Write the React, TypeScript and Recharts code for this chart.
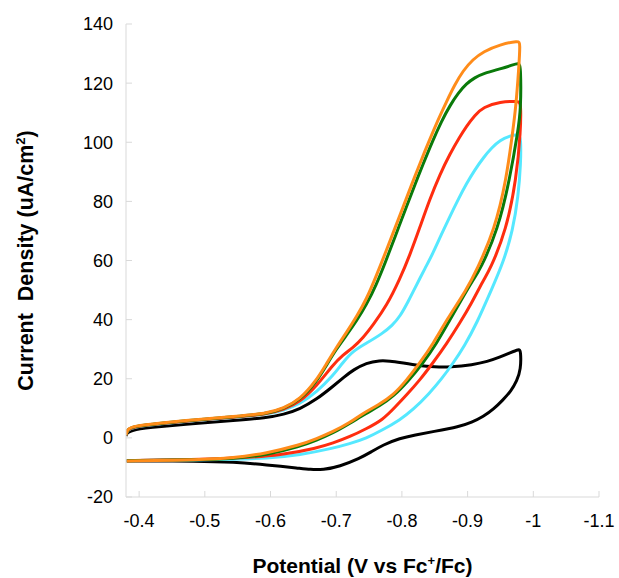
import { LineChart, Line, XAxis, YAxis, Label } from "recharts";

type Pt = [number, number];

// potential (V vs Fc+/Fc), current density (uA/cm2)
const potentialTicks = [-0.4, -0.5, -0.6, -0.7, -0.8, -0.9, -1, -1.1];
const currentTicks = [-20, 0, 20, 40, 60, 80, 100, 120, 140];

const blackOut: Pt[] = [
  [-0.38, 0.6], [-0.381, 1.6], [-0.391, 2.9], [-0.43, 3.8], [-0.492, 5.0], [-0.543, 5.9],
  [-0.594, 6.8], [-0.62, 7.9], [-0.645, 9.8], [-0.67, 13.0], [-0.695, 17.4], [-0.712, 20.6],
  [-0.726, 23.0], [-0.746, 25.4], [-0.766, 26.2], [-0.782, 26.0], [-0.797, 25.5], [-0.827, 24.4],
  [-0.85, 24.0], [-0.873, 23.9], [-0.908, 24.7], [-0.93, 25.8], [-0.949, 27.3], [-0.965, 28.8],
  [-0.978, 30.0],
];
const blackBack: Pt[] = [
  [-0.981, 29.6], [-0.981, 23.0], [-0.975, 19.4], [-0.966, 15.8], [-0.954, 12.9], [-0.94, 9.8],
  [-0.924, 7.2], [-0.906, 5.2], [-0.888, 3.8], [-0.847, 2.1], [-0.82, 1.0], [-0.797, -0.1],
  [-0.771, -2.4], [-0.753, -4.8], [-0.736, -6.9], [-0.705, -9.7], [-0.68, -10.8], [-0.66, -10.7],
  [-0.645, -10.3], [-0.594, -9.1], [-0.543, -8.2], [-0.492, -7.8], [-0.381, -7.8],
];

const cyanOut: Pt[] = [
  [-0.38, 0.9], [-0.382, 2.6], [-0.391, 3.7], [-0.43, 4.7], [-0.492, 6.0], [-0.543, 6.9],
  [-0.594, 7.9], [-0.62, 9.3], [-0.645, 11.5], [-0.67, 15.5], [-0.695, 21.0], [-0.71, 25.5],
  [-0.726, 29.5], [-0.746, 32.0], [-0.771, 35.4], [-0.785, 38.0], [-0.797, 41.0], [-0.81, 46.3],
  [-0.822, 51.6], [-0.835, 57.3], [-0.847, 62.3], [-0.86, 68.8], [-0.873, 74.9], [-0.886, 80.8],
  [-0.898, 85.9], [-0.911, 90.7], [-0.924, 94.8], [-0.937, 98.2], [-0.949, 100.6], [-0.965, 102.3],
  [-0.978, 102.6],
];
const cyanBack: Pt[] = [
  [-0.981, 101.5], [-0.981, 93.0], [-0.977, 81.6], [-0.969, 70.4], [-0.954, 59.1], [-0.936, 50.0],
  [-0.914, 38.8], [-0.895, 31.0], [-0.878, 25.3], [-0.86, 19.8], [-0.842, 15.1], [-0.817, 9.5],
  [-0.797, 6.1], [-0.77, 2.6], [-0.746, -0.1], [-0.72, -2.0], [-0.695, -3.5], [-0.645, -5.8],
  [-0.594, -6.9], [-0.543, -7.3], [-0.492, -7.5], [-0.381, -7.7],
];

const redOut: Pt[] = [
  [-0.38, 0.9], [-0.382, 2.7], [-0.391, 3.8], [-0.43, 4.8], [-0.492, 6.1], [-0.543, 7.0],
  [-0.594, 8.0], [-0.62, 9.6], [-0.645, 12.2], [-0.67, 17.5], [-0.695, 24.7], [-0.71, 28.0],
  [-0.726, 30.6], [-0.741, 33.9], [-0.756, 38.2], [-0.777, 44.8], [-0.797, 53.8], [-0.812, 61.8],
  [-0.827, 71.0], [-0.842, 80.5], [-0.858, 89.2], [-0.873, 96.0], [-0.888, 101.8], [-0.898, 105.3],
  [-0.911, 109.2], [-0.924, 111.9], [-0.949, 113.7], [-0.978, 113.9],
];
const redBack: Pt[] = [
  [-0.981, 113.2], [-0.981, 104.2], [-0.974, 87.3], [-0.959, 70.4], [-0.934, 56.8], [-0.924, 53.4],
  [-0.906, 45.5], [-0.888, 38.8], [-0.868, 31.8], [-0.847, 25.3], [-0.827, 19.5], [-0.807, 14.5],
  [-0.79, 10.5], [-0.771, 6.1], [-0.745, 3.0], [-0.721, 0.4], [-0.695, -1.8], [-0.67, -3.5],
  [-0.619, -5.8], [-0.543, -7.1], [-0.381, -7.7],
];

const greenOut: Pt[] = [
  [-0.38, 1.0], [-0.382, 2.8], [-0.391, 3.9], [-0.43, 4.9], [-0.492, 6.2], [-0.543, 7.1],
  [-0.594, 8.1], [-0.62, 9.9], [-0.645, 12.8], [-0.67, 19.0], [-0.685, 24.5], [-0.7, 30.0],
  [-0.716, 34.8], [-0.731, 39.6], [-0.746, 45.0], [-0.761, 51.8], [-0.775, 59.5], [-0.79, 68.3],
  [-0.807, 78.2], [-0.82, 85.8], [-0.832, 92.5], [-0.847, 100.6], [-0.86, 107.0], [-0.873, 112.4],
  [-0.886, 116.7], [-0.898, 119.8], [-0.911, 121.9], [-0.924, 123.3], [-0.949, 124.8], [-0.966, 125.9],
  [-0.978, 127.0],
];
const greenBack: Pt[] = [
  [-0.981, 125.5], [-0.981, 111.0], [-0.977, 104.2], [-0.964, 87.3], [-0.946, 70.4], [-0.919, 56.8],
  [-0.908, 53.4], [-0.89, 46.5], [-0.873, 39.9], [-0.853, 32.0], [-0.832, 25.3], [-0.81, 19.3],
  [-0.787, 14.0], [-0.766, 10.8], [-0.746, 8.4], [-0.72, 4.8], [-0.695, 1.6], [-0.67, -0.8],
  [-0.645, -2.9], [-0.594, -5.8], [-0.543, -7.0], [-0.492, -7.4], [-0.381, -7.7],
];

const orangeOut: Pt[] = [
  [-0.38, 1.0], [-0.382, 2.9], [-0.391, 4.0], [-0.43, 5.0], [-0.492, 6.3], [-0.543, 7.2],
  [-0.594, 8.2], [-0.62, 10.0], [-0.645, 13.0], [-0.67, 19.5], [-0.685, 25.0], [-0.7, 30.5],
  [-0.716, 35.8], [-0.731, 41.0], [-0.746, 46.9], [-0.761, 54.8], [-0.777, 63.8], [-0.79, 71.3],
  [-0.802, 78.2], [-0.815, 85.8], [-0.827, 92.6], [-0.842, 100.8], [-0.855, 107.6], [-0.868, 113.8],
  [-0.88, 119.3], [-0.893, 124.2], [-0.908, 128.0], [-0.924, 130.7], [-0.949, 133.0], [-0.978, 134.4],
];
const orangeBack: Pt[] = [
  [-0.98, 133.5], [-0.978, 125.0], [-0.973, 111.0], [-0.969, 104.2], [-0.959, 87.3], [-0.941, 70.4],
  [-0.914, 56.8], [-0.898, 50.0], [-0.868, 39.9], [-0.848, 32.0], [-0.827, 25.3], [-0.807, 19.5],
  [-0.787, 14.5], [-0.763, 11.0], [-0.741, 8.4], [-0.72, 5.0], [-0.695, 2.1], [-0.67, -0.3],
  [-0.645, -2.4], [-0.594, -5.2], [-0.543, -6.8], [-0.492, -7.4], [-0.381, -7.8],
];

// one closed sweep: cathodic scan out to the vertex, then back
const sweep = (out: Pt[], back: Pt[]) =>
  [...out, ...back].map(([v, j]) => ({ v, j }));

const curves = [
  { name: "black", color: "#000000", data: sweep(blackOut, blackBack) },
  { name: "cyan", color: "#55e8ff", data: sweep(cyanOut, cyanBack) },
  { name: "red", color: "#ff2d0f", data: sweep(redOut, redBack) },
  { name: "green", color: "#0a7a0a", data: sweep(greenOut, greenBack) },
  { name: "orange", color: "#ff8c1a", data: sweep(orangeOut, orangeBack) },
];

const FONT = "'Liberation Sans', Arial, sans-serif";
const AXIS = "#d9d9d9";

function XTitle({ viewBox }: any) {
  const cx = viewBox.x + viewBox.width / 2;
  return (
    <text x={cx} y={viewBox.y + 76} textAnchor="middle" fontFamily={FONT} fontSize={21} fontWeight="bold" fill="#000">
      Potential (V vs Fc<tspan dy={-8} fontSize={13}>+</tspan>
      <tspan dy={8}>/Fc)</tspan>
    </text>
  );
}

function YTitle({ viewBox }: any) {
  const cy = viewBox.y + viewBox.height / 2;
  return (
    <text
      transform={`translate(33, ${cy}) rotate(-90)`}
      textAnchor="middle"
      fontFamily={FONT}
      fontSize={21.5}
      fontWeight="bold"
      fill="#000"
      style={{ whiteSpace: "pre" }}
    >
      Current  Density (uA/cm<tspan dy={-8} fontSize={13}>2</tspan>
      <tspan dy={8}>)</tspan>
    </text>
  );
}

export default function App() {
  return (
    <div style={{ position: "absolute", left: 0, top: 0, width: 619, height: 578, background: "#fff" }}>
      <LineChart width={619} height={578} margin={{ top: 24, right: 20, bottom: 41, left: 66 }}>
        <XAxis
          dataKey="v"
          type="number"
          domain={[-1.1, -0.38]}
          reversed
          allowDataOverflow
          ticks={potentialTicks}
          height={40}
          stroke={AXIS}
          tickSize={-6}
          tickMargin={23}
          tick={{ fill: "#000", fontSize: 18, fontFamily: FONT }}
        >
          <Label content={XTitle} />
        </XAxis>
        <YAxis
          type="number"
          domain={[-20, 140]}
          ticks={currentTicks}
          width={60}
          stroke={AXIS}
          tickSize={-6}
          tickMargin={19}
          tick={{ fill: "#000", fontSize: 18, fontFamily: FONT }}
        >
          <Label content={YTitle} />
        </YAxis>
        {curves.map((c) => (
          <Line
            key={c.name}
            data={c.data}
            dataKey="j"
            type="basis"
            stroke={c.color}
            strokeWidth={3}
            dot={false}
            activeDot={false}
            isAnimationActive={false}
          />
        ))}
      </LineChart>
    </div>
  );
}
